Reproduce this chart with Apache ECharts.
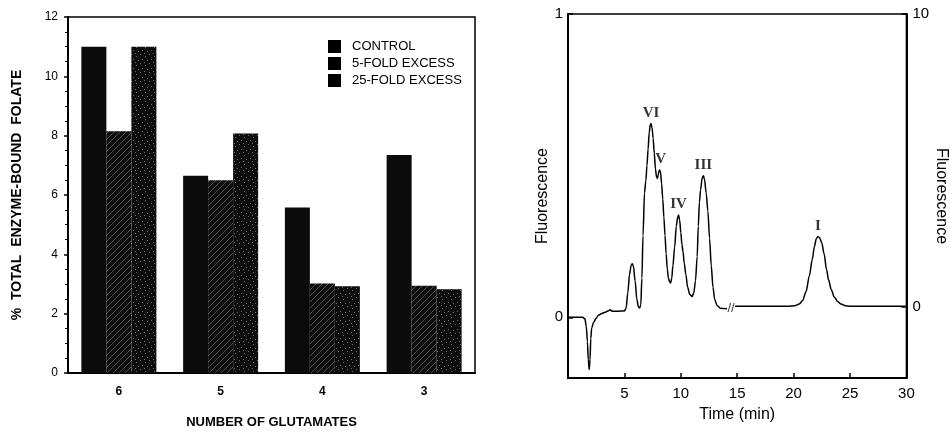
<!DOCTYPE html>
<html>
<head>
<meta charset="utf-8">
<script src="https://cdn.jsdelivr.net/npm/echarts@6/dist/echarts.min.js"></script>
<style>
  html, body { margin: 0; padding: 0; background: #fff; }
  #chart { width: 950px; height: 434px; }
</style>
</head>
<body>
<div id="chart"></div>
<script>
// left panel: bound folate by number of glutamates
const glutamates = ['6', '5', '4', '3'];
const controlVals = [11.0, 6.65, 5.58, 7.35];
const fold5Vals = [8.15, 6.5, 3.02, 2.94];
const fold25Vals = [11.0, 8.07, 2.92, 2.82];
const barNames = ['CONTROL', '5-FOLD EXCESS', '25-FOLD EXCESS'];

// right panel: chromatogram, before the axis break (left scale)
const traceEarly = [
  [0, 0], [1.3, 0], [1.5, -0.005], [1.62, -0.03], [1.72, -0.08], [1.8, -0.14], [1.88, -0.172],
  [1.95, -0.14], [2.02, -0.07], [2.1, -0.035], [2.28, -0.015], [2.5, -0.003], [2.7, 0.007],
  [3.0, 0.013], [3.3, 0.017], [3.6, 0.022], [3.75, 0.025], [3.9, 0.02], [4.4, 0.02], [5.0, 0.021],
  [5.15, 0.03], [5.3, 0.08], [5.45, 0.14], [5.6, 0.172], [5.7, 0.177], [5.8, 0.168], [5.95, 0.12],
  [6.1, 0.06], [6.25, 0.034], [6.35, 0.031], [6.45, 0.04], [6.55, 0.13], [6.65, 0.27], [6.78, 0.41],
  [6.9, 0.45], [7.0, 0.5], [7.1, 0.555], [7.2, 0.61], [7.3, 0.636], [7.36, 0.639], [7.45, 0.625],
  [7.55, 0.59], [7.65, 0.54], [7.75, 0.49], [7.85, 0.462], [7.92, 0.458], [8.0, 0.47], [8.1, 0.486],
  [8.2, 0.48], [8.3, 0.44], [8.4, 0.39], [8.5, 0.33], [8.6, 0.27], [8.7, 0.21], [8.8, 0.16],
  [8.9, 0.13], [9.0, 0.117], [9.1, 0.113], [9.2, 0.13], [9.3, 0.17], [9.45, 0.23], [9.6, 0.3],
  [9.72, 0.33], [9.8, 0.337], [9.9, 0.32], [10.0, 0.28], [10.1, 0.24], [10.2, 0.215], [10.3, 0.18],
  [10.45, 0.14], [10.6, 0.1], [10.8, 0.075], [11.0, 0.069], [11.15, 0.08], [11.3, 0.12], [11.45, 0.2],
  [11.55, 0.3], [11.65, 0.38], [11.75, 0.42], [11.9, 0.46], [12.0, 0.467], [12.1, 0.455],
  [12.25, 0.41], [12.4, 0.35], [12.55, 0.26], [12.7, 0.17], [12.85, 0.1], [13.0, 0.06], [13.2, 0.04],
  [13.5, 0.03], [14.1, 0.028]
];
// after the break (right scale)
const traceLate = [
  [14.8, 0], [18, 0], [19.5, 0], [20.1, 0.02], [20.5, 0.08], [20.8, 0.2], [21.1, 0.5], [21.4, 1.05],
  [21.65, 1.6], [21.85, 2.05], [22.0, 2.3], [22.15, 2.39], [22.3, 2.35], [22.5, 2.17], [22.7, 1.8],
  [22.92, 1.26], [23.1, 0.9], [23.34, 0.57], [23.6, 0.32], [23.9, 0.17], [24.2, 0.08], [24.6, 0.02],
  [25, 0], [30, 0]
];
const peakNames = ['VI', 'V', 'IV', 'III'];
const peakPos = [[7.36, 0.639], [8.22, 0.486], [9.8, 0.337], [12.0, 0.467]];
const lastPeak = { name: 'I', pos: [22.15, 2.39] };
const breakPos = [14.45, 0.028];

function hatch() {
  const c = document.createElement('canvas');
  c.width = 6; c.height = 6;
  const g = c.getContext('2d');
  g.fillStyle = '#0d0d0d'; g.fillRect(0, 0, 6, 6);
  g.strokeStyle = '#6e6e6e'; g.lineWidth = 0.7;
  g.beginPath(); g.moveTo(0, 6); g.lineTo(6, 0); g.stroke();
  return { image: c, repeat: 'repeat' };
}
function dots() {
  const c = document.createElement('canvas');
  c.width = 9; c.height = 9;
  const g = c.getContext('2d');
  g.fillStyle = '#0d0d0d'; g.fillRect(0, 0, 9, 9);
  g.fillStyle = '#6a6a6a';
  [[1, 2], [5, 0], [7, 5], [3, 6], [0, 8]].forEach(p => g.fillRect(p[0], p[1], 1, 1));
  return { image: c, repeat: 'repeat' };
}

const FONT = 'Liberation Sans';
const chart = echarts.init(document.getElementById('chart'), null, { renderer: 'canvas' });

chart.setOption({
  backgroundColor: '#fff',
  animation: false,
  textStyle: { fontFamily: FONT, color: '#000' },
  grid: [
    { left: 68, top: 17, width: 407, bottom: 55, show: true, borderColor: '#000', borderWidth: 1.5 },
    { left: 568, top: 14, right: 26, bottom: 56, show: true, borderColor: '#000', borderWidth: 1.5 }
  ],
  legend: {
    orient: 'vertical', left: 323, top: 35, itemWidth: 13, itemHeight: 13, itemGap: 4,
    textStyle: { fontSize: 13, color: '#000', padding: [0, 0, 0, 6] },
    data: barNames.map(n => ({ name: n, icon: 'rect', itemStyle: { color: '#000' } }))
  },
  xAxis: [
    {
      type: 'category', gridIndex: 0, data: glutamates,
      name: 'NUMBER OF GLUTAMATES', nameLocation: 'middle', nameGap: 43,
      nameTextStyle: { fontSize: 13, fontWeight: 'bold', color: '#000' },
      axisLine: { lineStyle: { color: '#000', width: 2 } },
      axisTick: { inside: false, length: 4, lineStyle: { color: '#000', width: 1.5 } },
      axisLabel: { fontSize: 12, fontWeight: 'bold', color: '#000', margin: 13 }
    },
    {
      type: 'value', gridIndex: 1, min: 0, max: 30, interval: 5,
      name: 'Time (min)', nameLocation: 'middle', nameGap: 29,
      nameTextStyle: { fontSize: 16, color: '#000' },
      axisLine: { onZero: false, lineStyle: { color: '#000', width: 2 } },
      axisTick: { inside: true, length: 5, lineStyle: { color: '#000', width: 1.5 } },
      axisLabel: { fontSize: 15, color: '#000', margin: 8, showMinLabel: false },
      splitLine: { show: false }
    }
  ],
  yAxis: [
    {
      type: 'value', gridIndex: 0, min: 0, max: 12, interval: 2,
      name: '%  TOTAL  ENZYME-BOUND  FOLATE', nameLocation: 'middle', nameGap: 44,
      nameTextStyle: { fontSize: 14, fontWeight: 'bold', color: '#000' },
      axisLine: { show: true, lineStyle: { color: '#000', width: 2 } },
      axisTick: { show: true, length: 4, lineStyle: { color: '#000', width: 1.5 } },
      minorTick: { show: true, splitNumber: 4, length: 3, lineStyle: { color: '#000', width: 1 } },
      axisLabel: { fontSize: 12, color: '#000', margin: 10 },
      splitLine: { show: false }
    },
    {
      type: 'value', gridIndex: 1, min: -0.2, max: 1, position: 'left',
      name: 'Fluorescence', nameLocation: 'middle', nameGap: 10,
      nameTextStyle: { fontSize: 16, color: '#000' },
      axisLine: { show: true, onZero: false, lineStyle: { color: '#000', width: 2 } },
      axisTick: { show: true, inside: true, length: 5, customValues: [0, 1], lineStyle: { color: '#000', width: 1.5 } },
      axisLabel: { fontSize: 15, color: '#000', margin: 5, customValues: [0, 1] },
      splitLine: { show: false }
    },
    {
      type: 'value', gridIndex: 1, min: -2.45, max: 10, position: 'right',
      name: 'Fluorescence', nameLocation: 'middle', nameGap: 10, nameRotate: -90,
      nameTextStyle: { fontSize: 16, color: '#000' },
      axisLine: { show: true, onZero: false, lineStyle: { color: '#000', width: 2 } },
      axisTick: { show: true, inside: true, length: 5, customValues: [0, 10], lineStyle: { color: '#000', width: 1.5 } },
      axisLabel: { fontSize: 15, color: '#000', margin: 6, customValues: [0, 10] },
      splitLine: { show: false }
    }
  ],
  series: [
    { name: barNames[0], type: 'bar', xAxisIndex: 0, yAxisIndex: 0, data: controlVals,
      barWidth: 25, barGap: '0%', itemStyle: { color: '#0b0b0b' } },
    { name: barNames[1], type: 'bar', xAxisIndex: 0, yAxisIndex: 0, data: fold5Vals,
      barWidth: 25, barGap: '0%', itemStyle: { color: hatch() } },
    { name: barNames[2], type: 'bar', xAxisIndex: 0, yAxisIndex: 0, data: fold25Vals,
      barWidth: 25, barGap: '0%', itemStyle: { color: dots() } },
    { type: 'line', xAxisIndex: 1, yAxisIndex: 1, data: traceEarly, showSymbol: false,
      smooth: 0.3, smoothMonotone: 'x', lineStyle: { color: '#000', width: 1.5 } },
    { type: 'line', xAxisIndex: 1, yAxisIndex: 2, data: traceLate, showSymbol: false,
      smooth: 0.3, smoothMonotone: 'x', lineStyle: { color: '#000', width: 1.5 } },
    { type: 'scatter', xAxisIndex: 1, yAxisIndex: 1, symbolSize: 0,
      data: peakPos.map((p, i) => ({ value: p, name: peakNames[i] })),
      label: { show: true, position: 'top', distance: 3, formatter: '{b}',
        fontFamily: 'Liberation Serif', fontWeight: 'bold', fontSize: 15, color: '#000' } },
    { type: 'scatter', xAxisIndex: 1, yAxisIndex: 2, symbolSize: 0,
      data: [{ value: lastPeak.pos, name: lastPeak.name }],
      label: { show: true, position: 'top', distance: 3, formatter: '{b}',
        fontFamily: 'Liberation Serif', fontWeight: 'bold', fontSize: 15, color: '#000' } },
    { type: 'scatter', xAxisIndex: 1, yAxisIndex: 1, symbolSize: 0,
      data: [breakPos],
      label: { show: true, position: 'inside', formatter: '//', fontSize: 13, color: '#000' } }
  ]
});
</script>
</body>
</html>
